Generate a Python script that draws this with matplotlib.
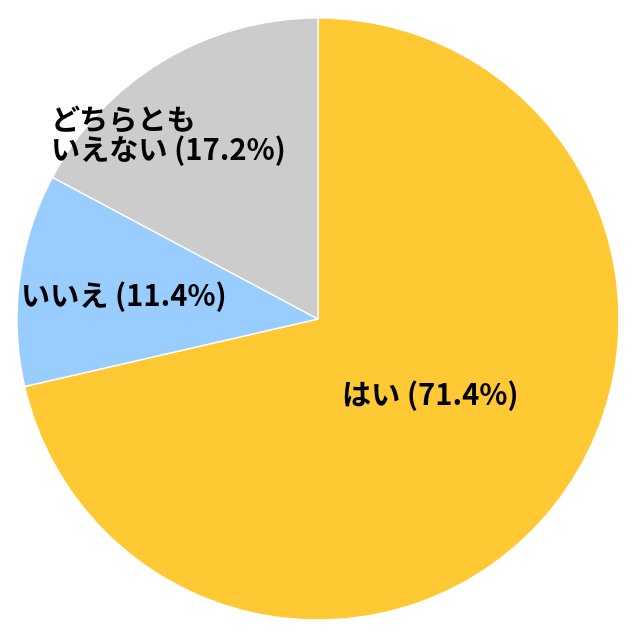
import matplotlib
matplotlib.use("Agg")
import matplotlib.pyplot as plt

plt.rcParams['font.family'] = ['Noto Sans CJK JP', 'DejaVu Sans']

labels = ["はい", "いいえ", "どちらとも\nいえない"]
values = [71.4, 11.4, 17.2]
colors = ["#FFC933", "#99CCFF", "#CCCCCC"]

fig = plt.figure(figsize=(6.4, 6.4), dpi=100)
ax = fig.add_axes([0, 0, 1, 1])
R = 301.0
ax.pie(values, colors=colors, startangle=90, counterclock=False, radius=1.0,
       wedgeprops=dict(edgecolor="white", linewidth=1.0))
ax.set_xlim(-318 / R, 322 / R)
ax.set_ylim(-321 / R, 319 / R)
ax.set_aspect('equal')
ax.axis('off')

def px(x, y):
    return (x - 318) / R, (319 - y) / R

fs = 21
t = [f"{l} ({v}%)" for l, v in zip(labels, values)]
x, y = px(430, 396)
ax.text(x, y, "はい (71.4%)", ha='center', va='center', fontsize=fs, fontweight='bold')
x, y = px(21, 297)
ax.text(x, y, t[1], ha='left', va='center', fontsize=fs, fontweight='bold')
x, y = px(51, 136)
ax.text(x, y, t[2], ha='left', va='center', fontsize=fs, fontweight='bold',
        linespacing=0.95, multialignment='left')

fig.savefig("out.png", dpi=100, facecolor="white")
